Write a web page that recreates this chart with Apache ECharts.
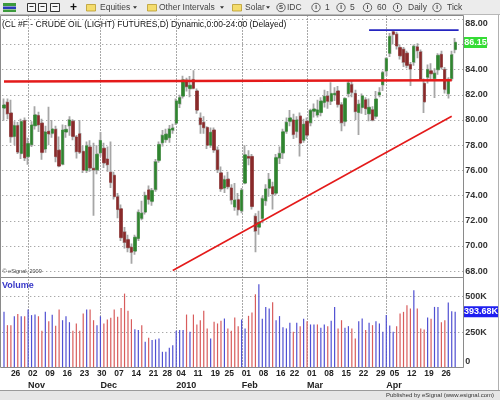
<!DOCTYPE html>
<html><head><meta charset="utf-8">
<script src="https://cdn.jsdelivr.net/npm/echarts@6/dist/echarts.min.js"></script>
<style>html,body{margin:0;padding:0;background:#fff}#c{width:500px;height:400px}</style>
</head><body><div id="c"></div>
<script>
// ---------------- data ----------------
const dates = [
'2009-10-22','2009-10-23','2009-10-26','2009-10-27','2009-10-28','2009-10-29','2009-10-30',
'2009-11-02','2009-11-03','2009-11-04','2009-11-05','2009-11-06',
'2009-11-09','2009-11-10','2009-11-11','2009-11-12','2009-11-13',
'2009-11-16','2009-11-17','2009-11-18','2009-11-19','2009-11-20',
'2009-11-23','2009-11-24','2009-11-25','2009-11-26','2009-11-27',
'2009-11-30','2009-12-01','2009-12-02','2009-12-03','2009-12-04',
'2009-12-07','2009-12-08','2009-12-09','2009-12-10','2009-12-11',
'2009-12-14','2009-12-15','2009-12-16','2009-12-17','2009-12-18',
'2009-12-21','2009-12-22','2009-12-23','2009-12-24',
'2009-12-28','2009-12-29','2009-12-30','2009-12-31',
'2010-01-04','2010-01-05','2010-01-06','2010-01-07','2010-01-08',
'2010-01-11','2010-01-12','2010-01-13','2010-01-14','2010-01-15',
'2010-01-19','2010-01-20','2010-01-21','2010-01-22',
'2010-01-25','2010-01-26','2010-01-27','2010-01-28','2010-01-29',
'2010-02-01','2010-02-02','2010-02-03','2010-02-04','2010-02-05',
'2010-02-08','2010-02-09','2010-02-10','2010-02-11','2010-02-12',
'2010-02-16','2010-02-17','2010-02-18','2010-02-19',
'2010-02-22','2010-02-23','2010-02-24','2010-02-25','2010-02-26',
'2010-03-01','2010-03-02','2010-03-03','2010-03-04','2010-03-05',
'2010-03-08','2010-03-09','2010-03-10','2010-03-11','2010-03-12',
'2010-03-15','2010-03-16','2010-03-17','2010-03-18','2010-03-19',
'2010-03-22','2010-03-23','2010-03-24','2010-03-25','2010-03-26',
'2010-03-29','2010-03-30','2010-03-31','2010-04-01',
'2010-04-05','2010-04-06','2010-04-07','2010-04-08','2010-04-09',
'2010-04-12','2010-04-13','2010-04-14','2010-04-15','2010-04-16',
'2010-04-19','2010-04-20','2010-04-21','2010-04-22','2010-04-23',
'2010-04-26','2010-04-27','2010-04-28','2010-04-29','2010-04-30'];

const opens = [
80.95,81.40,80.55,78.70,79.55,77.35,79.95,
77.10,78.05,79.55,80.35,79.75,
77.70,79.10,78.95,79.25,77.60,
76.50,79.05,79.55,79.90,78.65,
78.90,77.50,76.00,77.85,76.15,
76.05,77.40,77.75,76.90,75.85,
75.60,73.90,72.95,71.10,70.50,
69.90,69.60,70.60,72.20,72.70,
74.45,73.55,74.50,76.80,
78.20,78.45,78.60,79.20,
79.75,81.30,81.90,83.15,82.50,
83.20,82.30,80.15,79.80,79.40,
78.00,79.20,77.60,75.80,
74.60,75.30,74.60,73.10,73.67,
72.80,75.00,77.10,77.10,72.35,
71.50,72.20,73.60,74.60,74.70,
74.20,77.00,77.40,79.10,
79.90,80.00,79.10,80.30,78.40,
79.90,79.80,80.70,80.40,80.60,
81.40,81.90,81.50,82.00,82.30,
81.20,79.90,82.10,82.80,82.10,
80.60,81.00,81.60,80.50,80.80,
80.30,82.00,82.80,83.90,
85.30,87.00,86.80,85.75,85.60,
85.30,84.40,84.60,85.80,85.40,
82.90,83.40,83.90,83.30,84.00,
85.20,84.00,82.10,83.30,85.60];

const highs = [
81.70,81.70,81.60,79.90,79.85,80.10,80.20,
78.60,79.90,81.10,80.65,80.10,
79.55,81.05,80.00,79.55,78.70,
79.65,79.60,80.30,80.05,78.80,
80.00,77.95,78.30,78.40,78.20,
78.00,79.05,78.20,77.90,78.30,
75.90,74.20,73.30,71.50,70.90,
70.20,70.90,72.90,73.60,74.30,
74.80,74.60,76.90,78.30,
79.20,79.30,79.60,79.70,
81.70,82.00,83.52,83.36,83.50,
83.95,82.50,80.60,80.30,79.50,
79.40,79.40,77.90,76.30,
75.60,75.90,74.90,75.00,74.20,
74.60,78.00,77.60,77.30,72.60,
72.80,74.00,74.90,75.80,75.10,
77.30,77.90,79.30,80.20,
80.80,80.50,80.30,80.60,80.10,
80.20,80.90,81.30,81.60,81.80,
82.40,82.30,83.00,82.60,82.70,
81.40,81.80,83.10,83.10,82.40,
81.60,82.10,81.80,81.70,81.10,
82.30,82.60,83.90,85.00,
86.90,87.15,87.00,86.00,85.80,
85.50,84.60,86.00,86.10,85.60,
83.30,84.40,84.50,84.10,85.30,
85.50,84.20,83.40,85.50,86.50];

const lows = [
79.95,80.05,78.20,78.00,77.30,76.90,76.75,
76.45,77.85,79.25,79.05,76.85,
77.40,78.00,78.60,76.65,76.25,
76.40,78.60,78.75,78.40,76.95,
77.30,75.80,75.80,75.90,72.40,
75.70,77.10,76.20,75.90,74.60,
73.70,72.20,70.40,69.80,69.50,
68.59,69.30,70.40,72.05,72.50,
73.30,73.20,74.30,76.60,
77.90,78.20,78.20,78.90,
79.60,80.95,81.70,82.26,81.80,
82.45,80.50,78.90,78.90,77.70,
77.80,77.40,75.80,74.30,
74.20,74.50,73.30,72.80,72.43,
72.60,74.90,76.40,72.90,69.50,
70.90,71.80,73.20,73.90,72.90,
74.00,76.50,76.90,78.90,
79.50,78.50,78.60,77.10,78.20,
78.50,79.50,80.20,80.20,80.30,
81.00,80.90,81.20,81.50,81.00,
79.10,79.50,81.80,81.80,80.00,
78.80,80.50,80.40,79.90,79.90,
80.10,81.80,82.30,83.50,
85.00,86.00,85.60,84.80,84.20,
84.10,82.70,84.30,84.90,83.10,
80.55,82.90,83.20,81.75,83.60,
84.00,82.10,81.70,83.10,85.30];

const closes = [
81.19,80.50,78.68,79.55,77.46,79.87,77.00,
78.13,79.60,80.40,79.62,77.43,
79.05,78.90,79.28,77.10,76.35,
79.20,79.25,80.00,78.70,77.50,
77.45,76.02,77.96,76.20,76.05,
77.28,78.37,76.60,76.46,75.05,
73.93,72.90,70.67,70.30,69.87,
69.51,70.69,72.66,72.60,74.00,
73.70,74.40,76.67,78.05,
78.77,78.87,79.28,79.36,
81.51,81.77,83.18,82.66,82.75,
82.52,80.79,79.65,79.39,78.00,
79.02,77.62,76.08,74.54,
75.26,74.71,73.67,73.64,72.89,
74.43,77.23,76.98,73.14,71.19,
71.89,73.75,74.52,75.28,74.13,
77.01,77.33,79.06,79.81,
80.16,78.86,80.00,78.17,79.66,
78.80,80.75,80.87,80.80,81.50,
81.87,81.49,82.09,82.11,81.24,
79.80,81.70,82.93,82.20,80.68,
81.25,81.91,80.91,81.00,80.00,
81.66,82.17,83.76,84.87,
86.62,86.80,85.88,85.10,84.60,
84.34,84.05,85.84,85.51,83.24,
81.45,84.00,83.68,83.70,85.12,
84.20,82.44,83.22,85.17,86.15];

// volume in thousands of contracts
const volumes = [
393,299,299,362,377,362,362,
409,370,374,362,259,
393,327,372,294,409,
334,362,320,259,311,
259,381,409,409,334,
299,362,311,339,351,
409,358,421,522,400,
341,271,264,299,182,
210,194,198,205,
111,111,140,158,
260,264,264,374,252,
374,304,334,400,276,
205,323,311,330,
346,276,259,353,292,
339,276,365,388,517,
588,344,428,416,461,
334,363,285,276,
316,252,316,292,344,
327,304,304,304,280,
304,292,330,428,276,
334,280,292,276,205,
327,346,264,316,299,
327,311,252,370,
297,252,292,381,393,
440,416,546,416,276,
269,353,344,428,428,
320,334,459,398,393.68];

const priceTicks = {min: 68, max: 88, step: 2};
const volumeTicks = {min: 0, max: 500, step: 250};
const monthLabels = {'11':'Nov','12':'Dec','01':'2010','02':'Feb','03':'Mar','04':'Apr'};
// drawn annotation lines: [bar index, price]
const resistanceLine = [[0, 83.05], [130, 83.15]];
const trendLine = [[49, 68.05], [130, 80.3]];
const highLine = [[106, 87.13], [132, 87.13]];

// ---------------- layout / derived ----------------
const FONT = '"Liberation Sans", Arial, sans-serif';
const cats = dates.concat(['pad1', 'pad2']);
const dObj = dates.map(s => new Date(s + 'T00:00:00Z'));
const weekStart = cats.map((c, i) => {
  if (i === 0 || i >= dates.length) return false;
  const gap = (dObj[i] - dObj[i-1]) / 86400000;
  return dObj[i].getUTCDay() < dObj[i-1].getUTCDay() || gap > 6;
});
const monthStart = cats.map((c, i) => i > 0 && i < dates.length && dates[i].slice(5,7) !== dates[i-1].slice(5,7));

const wickData = dates.map((d, i) => [opens[i], closes[i], lows[i], highs[i]]);
const bodyData = dates.map((d, i) => [opens[i], closes[i], Math.min(opens[i], closes[i]), Math.max(opens[i], closes[i])]);
const volData = volumes.map((v, i) => {
  const prev = i > 0 ? closes[i-1] : opens[i];
  return {value: v, itemStyle: {color: closes[i] >= prev ? '#5050d2' : '#d85c5c'}};
});

const GL = 2.28, GW = 461.5;

// static decorations (toolbar, titles, frames)
const statics = [];
function txt(x, y, text, font, fill, align) {
  statics.push({type: 'text', x: x, y: y, silent: true, z: 60,
    style: {text: text, font: font, fill: fill, textAlign: align || 'left', textVerticalAlign: 'middle'}});
}
statics.push({type: 'rect', shape: {x: 0, y: 0, width: 500, height: 14.5}, style: {fill: '#ececec'}, silent: true, z: 50});
statics.push({type: 'line', shape: {x1: 0, y1: 14.5, x2: 500, y2: 14.5}, style: {stroke: '#b8b8b8', lineWidth: 1}, silent: true, z: 51});
// toolbar icons
statics.push({type: 'rect', shape: {x: 3, y: 3, width: 13, height: 3}, style: {fill: '#3c9a3c'}, silent: true, z: 52});
statics.push({type: 'rect', shape: {x: 3, y: 6.5, width: 13, height: 2.5}, style: {fill: '#2a3ab8'}, silent: true, z: 52});
statics.push({type: 'rect', shape: {x: 3, y: 9.5, width: 13, height: 2.5}, style: {fill: '#3c9a3c'}, silent: true, z: 52});
[[27.5, 3.5, 8, 8], [38.5, 3.5, 8, 8], [50.5, 3.5, 9, 8]].forEach(r => {
  statics.push({type: 'rect', shape: {x: r[0], y: r[1], width: r[2], height: r[3]}, style: {fill: '#f6f6f6', stroke: '#333', lineWidth: 1}, silent: true, z: 52});
  statics.push({type: 'line', shape: {x1: r[0] + 2, y1: r[1] + 3, x2: r[0] + r[2] - 2, y2: r[1] + 3}, style: {stroke: '#333', lineWidth: 1}, silent: true, z: 53});
});
txt(73.5, 7.5, '+', 'bold 12px ' + FONT, '#111', 'center');
[[86.5, 'Equities', 100, 135], [147.5, 'Other Intervals', 159, 222], [232.5, 'Solar', 245, 268]].forEach(f => {
  statics.push({type: 'rect', shape: {x: f[0], y: 4.5, width: 9, height: 6.5}, style: {fill: '#f4dc6c', stroke: '#b99a2c', lineWidth: 0.8}, silent: true, z: 52});
  txt(f[2], 7.5, f[1], '8.5px ' + FONT, '#444');
  statics.push({type: 'polygon', shape: {points: [[f[3] - 2, 6.3], [f[3] + 2, 6.3], [f[3], 8.8]]}, style: {fill: '#333'}, silent: true, z: 52});
});
[[281, 'S', 287, 'IDC'], [316, 'I', 325, '1'], [341, 'I', 350, '5'], [367.5, 'I', 377, '60'], [397.5, 'I', 408, 'Daily'], [437, 'I', 447, 'Tick']].forEach(c => {
  statics.push({type: 'circle', shape: {cx: c[0], cy: 7.5, r: 4.2}, style: {fill: 'none', stroke: '#444', lineWidth: 0.8}, silent: true, z: 52});
  txt(c[0], 7.7, c[1], 'bold 6px ' + FONT, '#333', 'center');
  txt(c[2], 7.5, c[3], '8.5px ' + FONT, '#444');
});
// titles
txt(2, 24.5, '(CL #F - CRUDE OIL (LIGHT) FUTURES,D) Dynamic,0:00-24:00 (Delayed)', '8.5px ' + FONT, '#111');
txt(2.5, 271.5, '\u00A9 eSignal, 2009', '5.5px ' + FONT, '#444');
txt(2, 286, 'Volume', 'bold 9px ' + FONT, '#3838c8');
// footer
statics.push({type: 'rect', shape: {x: 0, y: 390.5, width: 500, height: 9.5}, style: {fill: '#e6e6e6'}, silent: true, z: 50});
statics.push({type: 'line', shape: {x1: 0, y1: 390.5, x2: 500, y2: 390.5}, style: {stroke: '#9a9a9a', lineWidth: 1}, silent: true, z: 51});
txt(494, 395.5, 'Published by eSignal (www.esignal.com)', '6px ' + FONT, '#333', 'right');
// panel frames
statics.push({type: 'rect', shape: {x: 0.5, y: 15.5, width: 463, height: 262}, style: {fill: 'none', stroke: '#8a8a8a', lineWidth: 1}, silent: true, z: 40});
statics.push({type: 'rect', shape: {x: 0.5, y: 277.5, width: 463, height: 90}, style: {fill: 'none', stroke: '#8a8a8a', lineWidth: 1}, silent: true, z: 40});
statics.push({type: 'line', shape: {x1: 498.5, y1: 15, x2: 498.5, y2: 390}, style: {stroke: '#b0b0b0', lineWidth: 1}, silent: true, z: 40});

const axisLabelStyle = {color: '#333', fontSize: 9, fontWeight: 'bold', fontFamily: FONT};

const option = {
  animation: false,
  backgroundColor: '#ffffff',
  grid: [
    {left: GL, width: GW, top: 19.2, height: 252},
    {left: GL, width: GW, top: 296.7, height: 70.8}
  ],
  xAxis: [
    {type: 'category', gridIndex: 0, data: cats, boundaryGap: true,
     axisLine: {show: false}, axisTick: {show: false}, axisLabel: {show: false}, splitLine: {show: false}},
    {type: 'category', gridIndex: 1, data: cats, boundaryGap: true, position: 'bottom',
     axisLine: {show: false}, axisTick: {show: false}, splitLine: {show: false},
     axisLabel: Object.assign({}, axisLabelStyle, {fontSize: 8.5, color: '#222', margin: 1.5, align: 'left',
       interval: (i) => weekStart[i], formatter: (v) => v.slice(8, 10)})},
    {type: 'category', gridIndex: 1, data: cats, boundaryGap: true, position: 'bottom', offset: 12,
     axisLine: {show: false}, axisTick: {show: false}, splitLine: {show: false},
     axisLabel: Object.assign({}, axisLabelStyle, {fontSize: 9, color: '#222', margin: 1.5, align: 'left',
       interval: (i) => monthStart[i], formatter: (v) => monthLabels[v.slice(5, 7)] || ''})}
  ],
  yAxis: [
    {type: 'value', gridIndex: 0, position: 'right', min: priceTicks.min, max: priceTicks.max, interval: priceTicks.step,
     axisLine: {show: false}, axisTick: {show: false},
     splitLine: {show: true, lineStyle: {color: '#8a8a8a', type: [1, 3], width: 1}},
     axisLabel: Object.assign({}, axisLabelStyle, {margin: 1.5,
       formatter: (v) => v === priceTicks.max ? '{t|' + v.toFixed(2) + '}' : v.toFixed(2),
       rich: {t: Object.assign({}, axisLabelStyle, {padding: [9, 0, 0, 0]})}})},
    {type: 'value', gridIndex: 1, position: 'right', min: volumeTicks.min, max: volumeTicks.max, interval: volumeTicks.step,
     axisLine: {show: false}, axisTick: {show: false},
     splitLine: {show: true, lineStyle: {color: '#8a8a8a', type: [1, 3], width: 1}},
     axisLabel: Object.assign({}, axisLabelStyle, {margin: 1.5,
       formatter: (v) => v === 0 ? '{z|0}' : v + 'K',
       rich: {z: Object.assign({}, axisLabelStyle, {padding: [0, 0, 12, 0]})}})}
  ],
  series: [
    {name: 'wick', type: 'candlestick', xAxisIndex: 0, yAxisIndex: 0, data: wickData, barWidth: 1.6,
     itemStyle: {color: '#a6a6a6', color0: '#a6a6a6', borderColor: '#a6a6a6', borderColor0: '#a6a6a6', borderWidth: 1.8},
     silent: true, z: 3},
    {name: 'body', type: 'candlestick', xAxisIndex: 0, yAxisIndex: 0, data: bodyData, barWidth: 2.8,
     itemStyle: {color: '#2f852f', color0: '#8a2a2a', borderColor: '#2f852f', borderColor0: '#8a2a2a', borderWidth: 0.6},
     silent: true, z: 4},
    {name: 'resistance', type: 'line', xAxisIndex: 0, yAxisIndex: 0, data: resistanceLine, symbol: 'none',
     lineStyle: {color: '#e41a1a', width: 2.6}, silent: true, z: 6, clip: false},
    {name: 'trend', type: 'line', xAxisIndex: 0, yAxisIndex: 0, data: trendLine, symbol: 'none',
     lineStyle: {color: '#e41a1a', width: 1.6}, silent: true, z: 6, clip: false},
    {name: 'high', type: 'line', xAxisIndex: 0, yAxisIndex: 0, data: highLine, symbol: 'none',
     lineStyle: {color: '#2424c0', width: 1.6}, silent: true, z: 6, clip: false},
    {name: 'volume', type: 'bar', xAxisIndex: 1, yAxisIndex: 1, data: volData, barWidth: 1.2,
     silent: true, clip: false, z: 3}
  ],
  graphic: {elements: statics}
};

const chart = echarts.init(document.getElementById('c'), null, {renderer: 'canvas'});
chart.setOption(option);

// dynamic decorations placed through the chart's own scales
const dyn = statics.slice();
monthStart.forEach((m, i) => {
  if (!m) return;
  const x = Math.round(chart.convertToPixel({xAxisIndex: 0}, i)) + 0.5;
  dyn.push({type: 'line', shape: {x1: x, y1: 15.5, x2: x, y2: 367.5}, style: {stroke: '#505050', lineWidth: 1, lineDash: [1, 2]}, silent: true, z: 1});
});
const lastClose = closes[closes.length - 1];
const lastVol = volumes[volumes.length - 1];
const py = chart.convertToPixel({yAxisIndex: 0}, lastClose);
const vy = chart.convertToPixel({yAxisIndex: 1}, lastVol);
dyn.push({type: 'rect', shape: {x: 464, y: py - 5.5, width: 23, height: 11}, style: {fill: '#35dc35'}, silent: true, z: 70});
dyn.push({type: 'text', x: 475.5, y: py, silent: true, z: 71,
  style: {text: lastClose.toFixed(2), font: 'bold 9px ' + FONT, fill: '#ffffff', textAlign: 'center', textVerticalAlign: 'middle'}});
dyn.push({type: 'rect', shape: {x: 464, y: vy - 5.5, width: 34, height: 11}, style: {fill: '#1e1ef0'}, silent: true, z: 70});
dyn.push({type: 'text', x: 481, y: vy, silent: true, z: 71,
  style: {text: lastVol.toFixed(2) + 'K', font: 'bold 9px ' + FONT, fill: '#ffffff', textAlign: 'center', textVerticalAlign: 'middle'}});
chart.setOption({graphic: {elements: dyn}});
</script>
</body></html>
